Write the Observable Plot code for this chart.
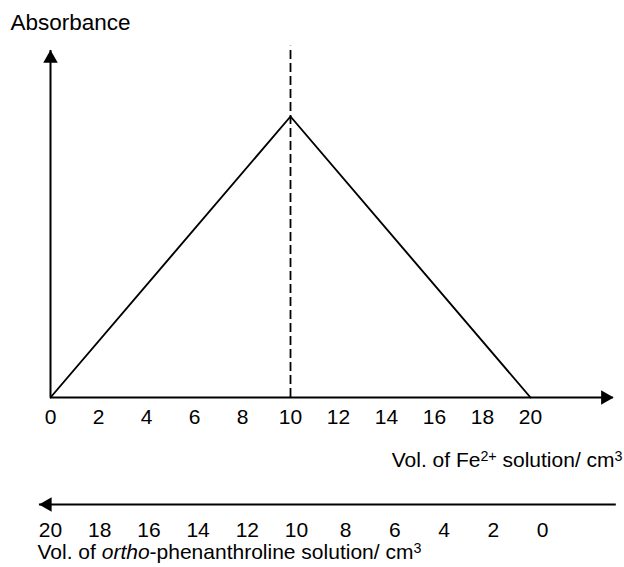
<!DOCTYPE html>
<html>
<head>
<meta charset="utf-8">
<script src="https://cdn.jsdelivr.net/npm/d3@7"></script>
<script src="https://cdn.jsdelivr.net/npm/@observablehq/plot@0.6"></script>
<style>
  html, body { margin: 0; padding: 0; background: #fff; }
  #chart { width: 624px; height: 567px; position: relative; }
  #chart svg { display: block; }
</style>
</head>
<body>
<div id="chart"></div>
<script>
// ---- data ----
const feVolume = [0, 10, 20];          // cm3 of Fe2+ solution
const absorbance = [0, 1, 0];          // relative absorbance
const peakVolume = [10];               // equivalence (dashed line)
const feTicks = [0, 2, 4, 6, 8, 10, 12, 14, 16, 18, 20];
const orthoTicks = [20, 18, 16, 14, 12, 10, 8, 6, 4, 2, 0];
const yLabel = "Absorbance";
const feLabel = "Vol. of Fe{2+} solution/ cm{3}";
const orthoLabel = "Vol. of [ortho]-phenanthroline solution/ cm{3}";

// axis extents (in data units)
const xAxisMax = 23.45, yAxisMax = 1.235, dashTop = 1.25;
const orthoAxisFrom = -3, orthoAxisTo = 20.45;

const font = "'Liberation Sans', Arial, Helvetica, sans-serif";
const fs = 21;

const points = feVolume.map((v, i) => ({vol: v, abs: absorbance[i]}));

const upperPlot = Plot.plot({
  width: 624,
  height: 480,
  margin: 0,
  style: {fontFamily: font, fontSize: fs + "px", color: "#000", background: "#fff"},
  x: {domain: [0, 20], range: [50, 530], axis: null},
  y: {domain: [0, 1], range: [397, 116], axis: null},
  marks: [
    Plot.ruleX(peakVolume, {x: d => d, y1: 0, y2: dashTop, stroke: "#000", strokeWidth: 1.8, strokeDasharray: "9,4"}),
    Plot.ruleY([0], {x1: 0, x2: xAxisMax, stroke: "#000", strokeWidth: 2}),
    Plot.ruleX([0], {y1: 0, y2: yAxisMax, stroke: "#000", strokeWidth: 2}),
    Plot.dot([0], {x: () => xAxisMax, y: 0, symbol: "triangle", r: 5.4, fill: "#000", rotate: 90, dx: -8}),
    Plot.dot([0], {x: 0, y: () => yAxisMax, symbol: "triangle", r: 5.4, fill: "#000", rotate: 0, dy: 8}),
    Plot.line(points, {x: "vol", y: "abs", stroke: "#000", strokeWidth: 1.9}),
    Plot.text(feTicks, {x: d => d, y: 0, text: d => String(d), lineAnchor: "top", dy: 12, fontSize: fs, fill: "#000"}),
    Plot.text([yLabel], {frameAnchor: "top-left", text: d => d, textAnchor: "start", lineAnchor: "top", dx: 10, dy: 14, fontSize: 22.5, fill: "#000"}),
    Plot.text([feLabel], {frameAnchor: "top-right", text: d => d, textAnchor: "end", lineAnchor: "top", dx: -2, dy: 452, fontSize: fs, fill: "#000", className: "rich"})
  ]
});

const lowerPlot = Plot.plot({
  width: 624,
  height: 87,
  margin: 0,
  style: {fontFamily: font, fontSize: fs + "px", color: "#000", background: "#fff"},
  x: {domain: [20, 0], range: [50, 542], axis: null},
  y: {domain: [0, 1], range: [24, 86], axis: null},
  marks: [
    Plot.ruleY([0], {x1: orthoAxisFrom, x2: orthoAxisTo, stroke: "#000", strokeWidth: 2}),
    Plot.dot([0], {x: () => orthoAxisTo, y: 0, symbol: "triangle", r: 5.4, fill: "#000", rotate: -90, dx: 8}),
    Plot.text(orthoTicks, {x: d => d, y: 0, text: d => String(d), lineAnchor: "top", dy: 18, fontSize: fs, fill: "#000"}),
    Plot.text([orthoLabel], {frameAnchor: "top-left", text: d => d, textAnchor: "start", lineAnchor: "top", dx: 37, dy: 64, fontSize: fs, fill: "#000", className: "rich"})
  ]
});

const chart = document.getElementById("chart");
chart.appendChild(upperPlot);
chart.appendChild(lowerPlot);

// rich text: {..} -> superscript, [..] -> italic
function richify(str) {
  const esc = s => s.replace(/&/g, "&amp;").replace(/</g, "&lt;");
  let out = "";
  const re = /\{([^}]*)\}|\[([^\]]*)\]|([^{\[]+)/g;
  let m, shifted = false;
  while ((m = re.exec(str))) {
    if (m[1] !== undefined) {
      out += `<tspan dy="-0.42em" font-size="0.68em">${esc(m[1])}</tspan>`;
      shifted = true;
    } else if (m[2] !== undefined) {
      out += `<tspan font-style="italic">${esc(m[2])}</tspan>`;
      shifted = false;
    } else {
      out += `<tspan${shifted ? ' dy="0.2856em"' : ""}>${esc(m[3])}</tspan>`;
      shifted = false;
    }
  }
  return out;
}
chart.querySelectorAll(".rich text").forEach(t => {
  const s = t.textContent;
  t.innerHTML = richify(s);
});
</script>
</body>
</html>
